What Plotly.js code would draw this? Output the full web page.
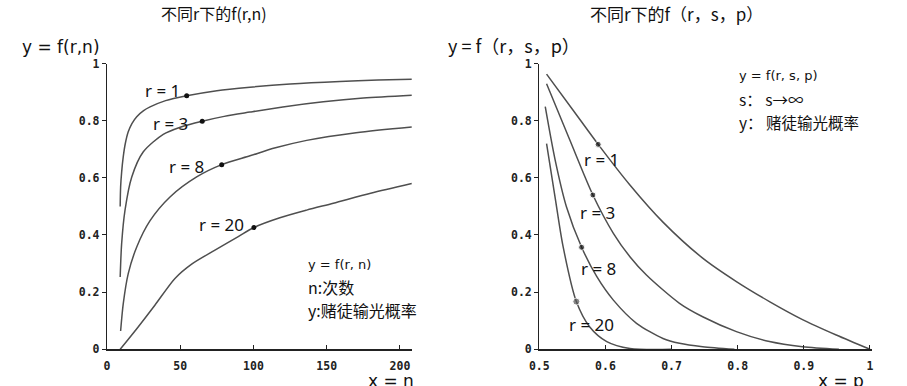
<!DOCTYPE html>
<html>
<head>
<meta charset="utf-8">
<script src="https://cdn.plot.ly/plotly-3.0.1.min.js"></script>
<style>html,body{margin:0;padding:0;background:#fff;}#chart{width:907px;height:386px;}</style>
</head>
<body>
<div id="chart"></div>
<script>
// ---- Left chart: f(r,n), x = n ----
const leftXTicks = [0, 50, 100, 150, 200];
const yTicks = [0, 0.2, 0.4, 0.6, 0.8, 1];
const yTickText = ['0', '0.2', '0.4', '0.6', '0.8', '1'];

const n_r1 = [9, 9.3, 10, 11.1, 12.5, 14.5, 17, 20.3, 25, 29.4, 40, 54.4, 75, 97.6, 125, 159, 185, 208];
const y_r1 = [0.50, 0.568, 0.62, 0.674, 0.72, 0.761, 0.79, 0.814, 0.835, 0.848, 0.870, 0.887, 0.905, 0.917, 0.928, 0.937, 0.942, 0.945];

const n_r3 = [9, 10, 12.3, 16.9, 24.8, 38.4, 50, 65, 80, 97.6, 120, 147.7, 175, 208];
const y_r3 = [0.253, 0.37, 0.487, 0.603, 0.691, 0.752, 0.777, 0.798, 0.815, 0.830, 0.848, 0.866, 0.879, 0.889];

const n_r8 = [9.3, 11.1, 14.5, 20.3, 29.4, 43, 61.2, 78.3, 97.6, 115, 136.3, 170, 208];
const y_r8 = [0.064, 0.16, 0.265, 0.358, 0.45, 0.533, 0.603, 0.646, 0.677, 0.705, 0.731, 0.758, 0.778];

const n_r20 = [9, 21.4, 32.8, 46.4, 57.8, 73.7, 89.6, 100.3, 118, 136.3, 154.5, 180, 208];
const y_r20 = [0, 0.079, 0.155, 0.248, 0.298, 0.347, 0.394, 0.426, 0.46, 0.487, 0.511, 0.546, 0.58];

const leftDotN = [54.4, 65, 78.3, 100.3];
const leftDotY = [0.887, 0.798, 0.646, 0.426];

// ---- Right chart: f(r,s,p), x = p ----
const rightXTicks = [0.5, 0.6, 0.7, 0.8, 0.9, 1];
const rightXTickText = ['0.5', '0.6', '0.7', '0.8', '0.9', '1'];

const p_r1 = [0.511, 0.55, 0.589, 0.637, 0.687, 0.747, 0.798, 0.848, 0.898, 0.949, 1.0];
const f_r1 = [0.963, 0.840, 0.717, 0.575, 0.445, 0.319, 0.237, 0.167, 0.104, 0.050, 0.0];

const p_r3 = [0.511, 0.546, 0.581, 0.612, 0.637, 0.662, 0.712, 0.747, 0.798, 0.848, 0.898, 0.953];
const f_r3 = [0.929, 0.733, 0.54, 0.406, 0.324, 0.26, 0.161, 0.114, 0.062, 0.027, 0.009, 0.0];

const p_r8 = [0.509, 0.524, 0.541, 0.564, 0.587, 0.612, 0.647, 0.687, 0.712, 0.747, 0.795];
const f_r8 = [0.849, 0.662, 0.499, 0.357, 0.254, 0.172, 0.091, 0.038, 0.021, 0.009, 0.0];

const p_r20 = [0.511, 0.524, 0.536, 0.556, 0.576, 0.602, 0.637, 0.70];
const f_r20 = [0.72, 0.53, 0.359, 0.167, 0.079, 0.027, 0.003, 0.0];

const rightDotP = [0.589, 0.581, 0.564, 0.556];
const rightDotF = [0.717, 0.54, 0.357, 0.167];

const W = 907, H = 386;
const px = x => x / W;
const py = y => 1 - y / H;

const curveLine = {color: '#4f4f4f', width: 1.5, shape: 'spline', smoothing: 0.8};

function curve(x, y, xa, ya) {
  return {x: x, y: y, xaxis: xa, yaxis: ya, mode: 'lines', line: curveLine, hoverinfo: 'skip', showlegend: false};
}

const traces = [
  curve(n_r1, y_r1, 'x', 'y'),
  curve(n_r3, y_r3, 'x', 'y'),
  curve(n_r8, y_r8, 'x', 'y'),
  curve(n_r20, y_r20, 'x', 'y'),
  {x: leftDotN, y: leftDotY, xaxis: 'x', yaxis: 'y', mode: 'markers', marker: {color: '#111', size: 5}, showlegend: false},
  curve(p_r1, f_r1, 'x2', 'y2'),
  curve(p_r3, f_r3, 'x2', 'y2'),
  curve(p_r8, f_r8, 'x2', 'y2'),
  curve(p_r20, f_r20, 'x2', 'y2'),
  {x: rightDotP, y: rightDotF, xaxis: 'x2', yaxis: 'y2', mode: 'markers', marker: {color: ['#111', '#111', '#111', '#555'], size: [6, 6, 6, 7]}, showlegend: false}
];

const tickFont = {family: 'DejaVu Sans Mono', size: 11.5, color: '#222', weight: 'bold'};
const axisCommon = {showline: true, linecolor: '#222', linewidth: 1.2, showgrid: false, zeroline: false, tickcolor: '#222', tickwidth: 1, tickfont: tickFont, fixedrange: true};

const sans = 'DejaVu Sans, Noto Sans CJK SC';
const noto = 'Noto Sans, DejaVu Sans';
const cjk = 'Noto Sans CJK SC, DejaVu Sans';

function ann(text, x, y, size, anchor, font) {
  return {text: text, x: px(x), y: py(y), xref: 'paper', yref: 'paper', showarrow: false,
          xanchor: anchor || 'center', yanchor: 'middle', font: {family: font || sans, size: size, color: '#111'}};
}

const annotations = [
  ann('不同r下的f(r,n)', 214, 13, 16, 'center', cjk),
  ann('不同r下的f（r，s，p）', 676, 13, 17, 'center', cjk),
  ann('y = f(r,n)', 61, 47, 17, 'center', sans),
  ann('y = f（r，s，p）', 446, 45, 18, 'left', cjk),
  ann('x = n', 391, 381, 17, 'center', sans),
  ann('x = p', 841, 381, 17, 'center', sans),
  ann('r = 1', 162, 91, 17, 'center', noto),
  ann('r = 3', 170, 123, 17, 'center', noto),
  ann('r = 8', 186, 166, 17, 'center', noto),
  ann('r = 20', 221, 225, 17, 'center', noto),
  ann('y = f(r, n)', 306, 264, 13, 'left', sans),
  ann('n:次数', 306, 287, 16, 'left', cjk),
  ann('y:赌徒输光概率', 306, 310, 16, 'left', cjk),
  ann('r = 1', 601, 159, 17, 'center', noto),
  ann('r = 3', 597, 213, 17, 'center', noto),
  ann('r = 8', 598, 268, 17, 'center', noto),
  ann('r = 20', 591, 324, 17, 'center', noto),
  ann('y = f(r, s, p)', 737, 75, 13, 'left', sans),
  ann('s： s→∞', 737, 99, 15.5, 'left', cjk),
  ann('y： 赌徒输光概率', 737, 122, 15.5, 'left', cjk)
];

const layout = {
  width: W, height: H,
  margin: {l: 0, r: 0, t: 0, b: 0, pad: 0},
  paper_bgcolor: '#fff', plot_bgcolor: '#fff',
  showlegend: false,
  xaxis: Object.assign({}, axisCommon, {domain: [px(107), px(412)], range: [0, 208.2], tickvals: leftXTicks, ticks: 'inside', ticklen: 4, anchor: 'y', ticklabelstandoff: 6}),
  yaxis: Object.assign({}, axisCommon, {domain: [py(349.3), py(63.5)], range: [0, 1], tickvals: yTicks, ticktext: yTickText, ticks: 'outside', ticklen: 4, anchor: 'x'}),
  xaxis2: Object.assign({}, axisCommon, {domain: [px(539.3), px(871.7)], range: [0.5, 1.0026], tickvals: rightXTicks, ticktext: rightXTickText, ticks: 'inside', ticklen: 4, anchor: 'y2', ticklabelstandoff: 6}),
  yaxis2: Object.assign({}, axisCommon, {domain: [py(349.3), py(63.5)], range: [0, 1], tickvals: yTicks, ticktext: yTickText, ticks: 'outside', ticklen: 4, anchor: 'x2'}),
  annotations: annotations
};

Plotly.newPlot('chart', traces, layout, {displayModeBar: false, staticPlot: true});
</script>
</body>
</html>
